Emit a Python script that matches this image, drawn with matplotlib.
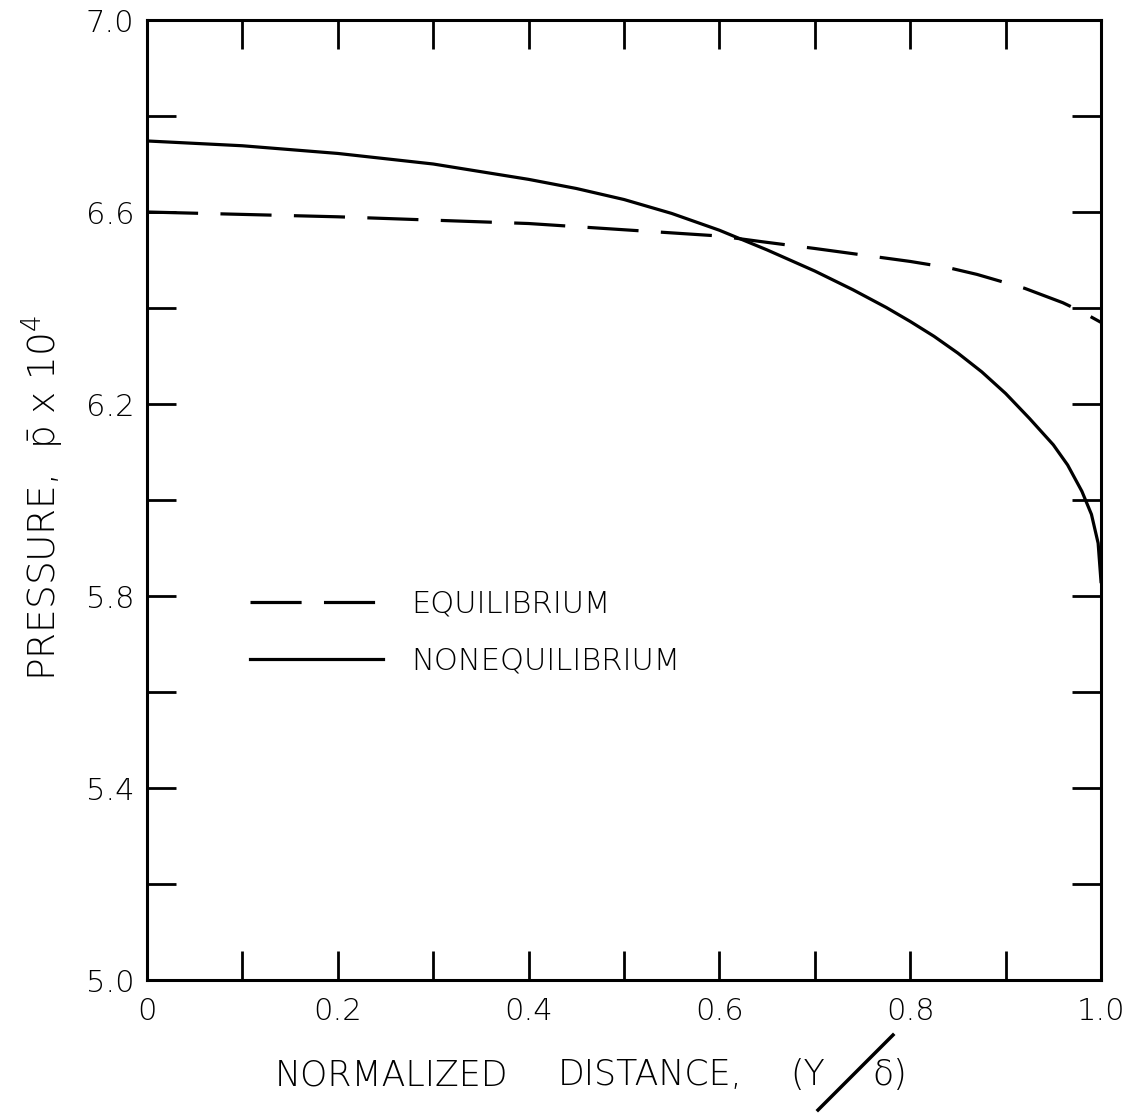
import matplotlib
matplotlib.use("Agg")
import matplotlib.pyplot as plt
from matplotlib.lines import Line2D

# ---- data ----
x_noneq = [0.0, 0.1, 0.2, 0.3, 0.4, 0.45, 0.5, 0.55, 0.6, 0.65, 0.7, 0.74, 0.775, 0.8, 0.825,
           0.85, 0.875, 0.9, 0.925, 0.95, 0.965, 0.98, 0.99, 0.997, 1.0]
p_noneq = [6.748, 6.738, 6.722, 6.700, 6.668, 6.649, 6.626, 6.597, 6.562, 6.521, 6.477, 6.438,
           6.401, 6.372, 6.341, 6.306, 6.267, 6.222, 6.170, 6.115, 6.073, 6.018, 5.970, 5.910, 5.830]

x_eq = [0.0, 0.2, 0.4, 0.6, 0.645, 0.7, 0.8, 0.84, 0.87, 0.92, 0.96, 0.98, 1.0]
p_eq = [6.600, 6.590, 6.576, 6.550, 6.538, 6.524, 6.497, 6.484, 6.470, 6.441, 6.411, 6.392, 6.370]

series_labels = ["EQUILIBRIUM", "NONEQUILIBRIUM"]

xticks = [0.0, 0.1, 0.2, 0.3, 0.4, 0.5, 0.6, 0.7, 0.8, 0.9, 1.0]
xtick_labels = ["0", "", "0.2", "", "0.4", "", "0.6", "", "0.8", "", "1.0"]
yticks = [5.0, 5.2, 5.4, 5.6, 5.8, 6.0, 6.2, 6.4, 6.6, 6.8, 7.0]
ytick_labels = ["5.0", "", "5.4", "", "5.8", "", "6.2", "", "6.6", "", "7.0"]

plt.rcParams['font.family'] = ['DejaVu Sans']
plt.rcParams['font.weight'] = 'light'
plt.rcParams['mathtext.fontset'] = 'dejavusans'

W, H = 1147, 1113
fig = plt.figure(figsize=(W / 100, H / 100), dpi=100)
ax = fig.add_axes([147 / W, 1 - 980 / H, (1101 - 147) / W, (980 - 20) / H])

lw = 2.3
ax.plot(x_eq, p_eq, color='black', lw=lw, linestyle=(0, (16, 7)), label=series_labels[0])
ax.plot(x_noneq, p_noneq, color='black', lw=lw, linestyle='-', label=series_labels[1])

ax.set_xlim(0, 1.0)
ax.set_ylim(5.0, 7.0)
ax.set_xticks(xticks)
ax.set_xticklabels(xtick_labels)
ax.set_yticks(yticks)
ax.set_yticklabels(ytick_labels)
ax.tick_params(direction='in', length=21, width=2.0, top=True, right=True,
               labelsize=22, colors='black')
ax.tick_params(axis='y', pad=9)
ax.tick_params(axis='x', pad=12)
for s in ax.spines.values():
    s.set_linewidth(2.2)

leg = ax.legend(loc='upper left', bbox_to_anchor=(0.108, 0.407), frameon=False,
                fontsize=22, handlelength=4.36, handletextpad=0.92, labelspacing=0.92,
                borderpad=0, borderaxespad=0)

# axis labels
fig.text(43 / W, 1 - 498 / H, r'PRESSURE,  p̄ x 10$^{4}$', rotation=90, ha='center', va='center',
         fontsize=27)
ylab = 1 - 1075 / H
fig.text(275 / W, ylab, 'NORMALIZED', ha='left', va='center', fontsize=25)
fig.text(558 / W, ylab, 'DISTANCE,', ha='left', va='center', fontsize=25)
fig.text(790 / W, ylab, '(Y', ha='left', va='center', fontsize=25)
fig.text(872 / W, ylab, 'δ)', ha='left', va='center', fontsize=25)
fig.add_artist(Line2D([818 / W, 893 / W], [1 - 1110 / H, 1 - 1035 / H],
                      transform=fig.transFigure, color='black', lw=2.5))

fig.savefig('out.png', dpi=100)
